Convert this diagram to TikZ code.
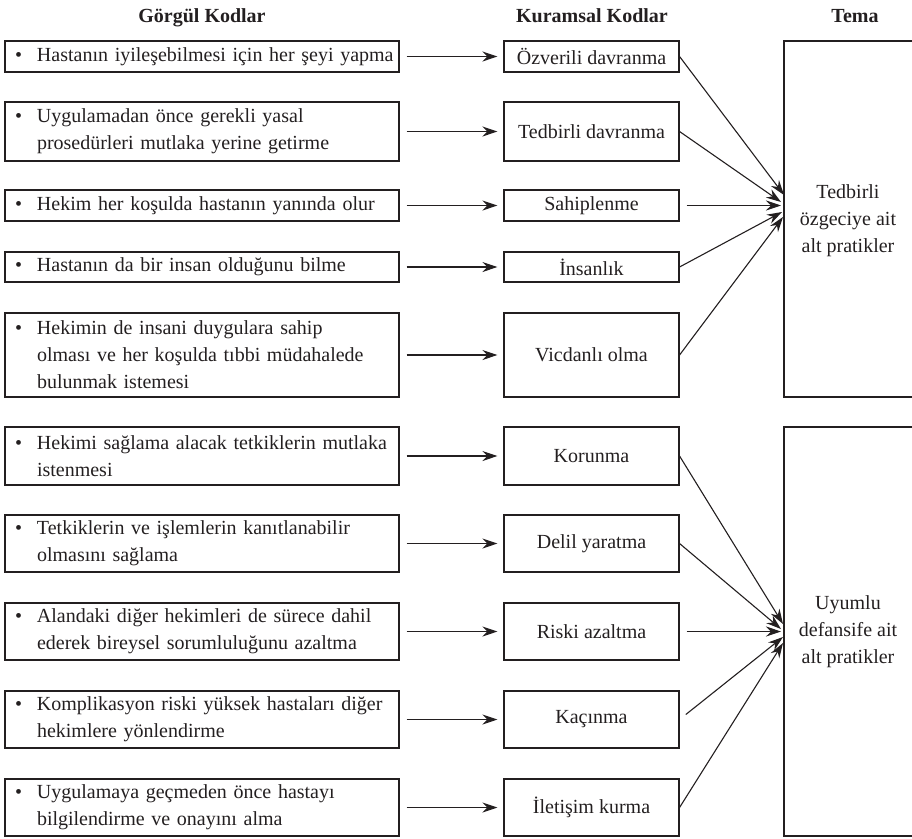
\documentclass[tikz,border=0pt]{standalone}
\usepackage{fontspec}
\setmainfont{Liberation Serif}
\usetikzlibrary{arrows.meta}
\definecolor{ink}{HTML}{231F20}
\newcommand{\bitem}[1]{\makebox[22pt][l]{\textbullet}\parbox[t]{352pt}{\raggedright #1}}
\begin{document}
\begin{tikzpicture}[x=1pt,y=-1pt,
  every node/.style={font=\fontsize{20}{27}\selectfont, text=ink},
  gbox/.style={draw=ink, line width=1.1pt, minimum width=394pt, text width=374pt, inner xsep=10pt, inner ysep=2pt, align=left},
  kbox/.style={draw=ink, line width=1.1pt, minimum width=175pt, inner sep=2pt, align=center},
  tbox/.style={draw=ink, line width=1.1pt, minimum width=129pt, inner sep=2pt, align=center},
  arr/.style={draw=ink, line width=1.1pt, -{Stealth[length=15pt,width=10pt,inset=5pt]}},
  head/.style={font=\bfseries\fontsize{20}{24}\selectfont, anchor=base, text=ink}
]
\clip (0,0) rectangle (912,838);

% headers
\node[head] (h1) at (202,22) {Görgül Kodlar};
\node[head] (h2) at (592,22) {Kuramsal Kodlar};
\node[head] (h3) at (855,22) {Tema};

% empirical codes
\node[gbox, minimum height=31pt] (g1) at (202,56.5) {\bitem{\mbox{Hastanın iyileşebilmesi için her şeyi yapma}}};
\node[gbox, minimum height=59pt] (g2) at (202,131.5) {\bitem{Uygulamadan önce gerekli yasal\\prosedürleri mutlaka yerine getirme}};
\node[gbox, minimum height=31pt] (g3) at (202,205.5) {\bitem{\mbox{Hekim her koşulda hastanın yanında olur}}};
\node[gbox, minimum height=30pt] (g4) at (202,267) {\bitem{\mbox{Hastanın da bir insan olduğunu bilme}}};
\node[gbox, minimum height=84pt] (g5) at (202,355) {\bitem{Hekimin de insani duygulara sahip\\\mbox{olması ve her koşulda tıbbi müdahalede}\\bulunmak istemesi}};
\node[gbox, minimum height=58pt] (g6) at (202,456) {\bitem{\mbox{Hekimi sağlama alacak tetkiklerin mutlaka}\\istenmesi}};
\node[gbox, minimum height=57pt] (g7) at (202,543.5) {\bitem{\mbox{Tetkiklerin ve işlemlerin kanıtlanabilir}\\olmasını sağlama}};
\node[gbox, minimum height=57pt] (g8) at (202,631.5) {\bitem{\mbox{Alandaki diğer hekimleri de sürece dahil}\\\mbox{ederek bireysel sorumluluğunu azaltma}}};
\node[gbox, minimum height=57pt] (g9) at (202,719.5) {\bitem{\mbox{Komplikasyon riski yüksek hastaları diğer}\\hekimlere yönlendirme}};
\node[gbox, minimum height=57pt] (g10) at (202,807.5) {\bitem{Uygulamaya geçmeden önce hastayı\\bilgilendirme ve onayını alma}};

% theoretical codes
\node[kbox, minimum height=31pt] (m1) at (591.5,56.5) {Özverili davranma};
\node[kbox, minimum height=59pt] (m2) at (591.5,131.5) {Tedbirli davranma};
\node[kbox, minimum height=31pt] (m3) at (591.5,205.5) {Sahiplenme};
\node[kbox, minimum height=30pt] (m4) at (591.5,267) {İnsanlık};
\node[kbox, minimum height=84pt] (m5) at (591.5,355) {Vicdanlı olma};
\node[kbox, minimum height=58pt] (m6) at (591.5,456) {Korunma};
\node[kbox, minimum height=57pt] (m7) at (591.5,543.5) {Delil yaratma};
\node[kbox, minimum height=57pt] (m8) at (591.5,631.5) {Riski azaltma};
\node[kbox, minimum height=57pt] (m9) at (591.5,719.5) {Kaçınma};
\node[kbox, minimum height=57pt] (m10) at (591.5,807.5) {İletişim kurma};

% themes
\node[tbox, minimum height=356pt] (T1) at (848.5,219) {};
\node[tbox, minimum height=409pt] (T2) at (848.5,631.5) {};
\node[align=center] (T1t) at (848,221) {Tedbirli\\özgeciye ait\\alt pratikler};
\node[align=center] (T2t) at (848,632) {Uyumlu\\defansife ait\\alt pratikler};

% arrows empirical -> theoretical
\foreach \i in {1,...,10}{
  \draw[arr, shorten <=7pt, shorten >=6pt] (g\i.east) -- (m\i.west);
}

% arrow end points on theme boxes
\coordinate (t1) at (784,195);
\coordinate (t2) at (781,202);
\coordinate (t3) at (781,205.5);
\coordinate (t4) at (782,212);
\coordinate (t5) at (783,217);
\coordinate (b1) at (783,624);
\coordinate (b2) at (781,629);
\coordinate (b3) at (781,631.5);
\coordinate (b4) at (783,637);
\coordinate (b5) at (783,643);

\draw[arr] (m1.east) -- (t1);
\draw[arr] (m2.east) -- (t2);
\draw[arr, shorten <=7pt] (m3.east) -- (t3);
\draw[arr] (m4.east) -- (t4);
\draw[arr] (m5.east) -- (t5);
\draw[arr] (m6.east) -- (b1);
\draw[arr] (m7.east) -- (b2);
\draw[arr, shorten <=7pt] (m8.east) -- (b3);
\draw[arr, shorten <=8pt] (m9.east) -- (b4);
\draw[arr] (m10.east) -- (b5);
\end{tikzpicture}
\end{document}
